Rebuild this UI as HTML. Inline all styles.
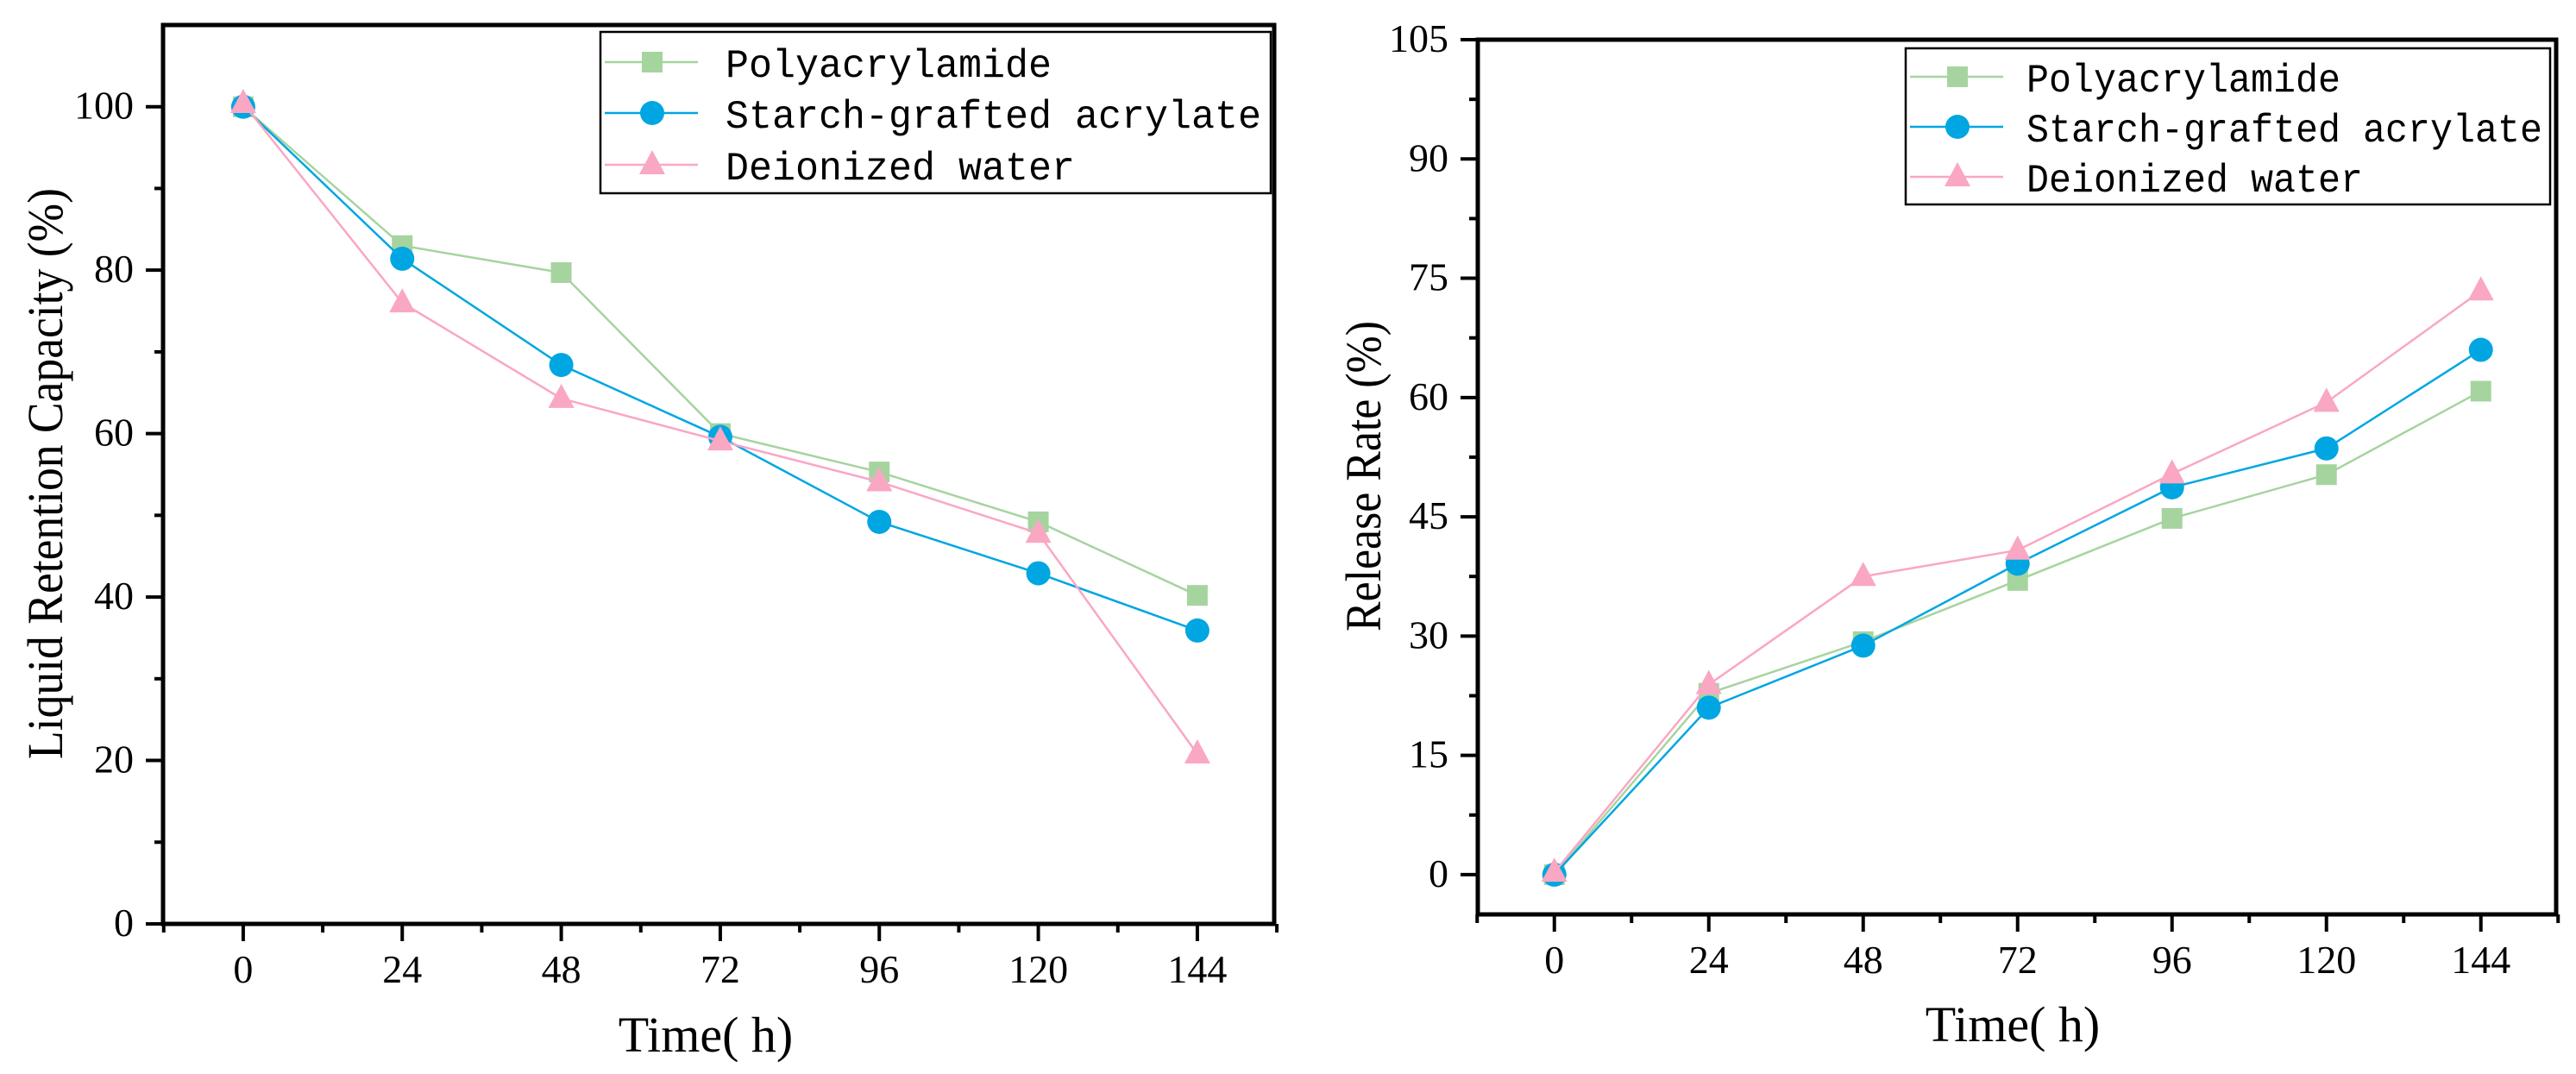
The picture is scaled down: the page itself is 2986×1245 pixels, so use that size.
<!DOCTYPE html>
<html><head><meta charset="utf-8"><style>
html,body{margin:0;padding:0;background:#fff;}
svg{display:block;}
text{font-family:"Liberation Serif",serif;fill:#000;}
.leg{font-family:"Liberation Mono",monospace;font-size:46px;}
</style></head><body>
<svg id="fig" width="2986" height="1245" viewBox="0 0 2986 1245" xmlns="http://www.w3.org/2000/svg"></svg>
<script>
const xCategories = [0, 24, 48, 72, 96, 120, 144];
const seriesNames = ["Polyacrylamide", "Starch-grafted acrylate", "Deionized water"];
const leftPoly = [100, 83, 79.7, 60, 55.3, 49.2, 40.2];
const leftStarch = [100, 81.4, 68.4, 59.6, 49.2, 42.9, 35.9];
const leftWater = [100.4, 76, 64.3, 59.1, 54.1, 47.8, 20.8];
const rightPoly = [0, 22.8, 29.3, 37, 44.8, 50.3, 60.8];
const rightStarch = [0, 21, 28.8, 39.1, 48.7, 53.6, 66];
const rightWater = [0.3, 23.9, 37.5, 40.8, 50.4, 59.4, 73.4];
const leftYTicks = [0, 20, 40, 60, 80, 100];
const rightYTicks = [0, 15, 30, 45, 60, 75, 90, 105];

const NS = "http://www.w3.org/2000/svg";
const svg = document.getElementById("fig");
const colors = ["#a6d49f", "#00a6e2", "#f9a7c3"];
function mk(tag, attrs, parent) {
  const e = document.createElementNS(NS, tag);
  for (const k in attrs) e.setAttribute(k, attrs[k]);
  (parent || svg).appendChild(e);
  return e;
}
function marker(g, kind, cx, cy, color) {
  let m;
  if (kind === 0) m = mk("rect", {x: cx - 12, y: cy - 12, width: 24, height: 24, fill: color}, g);
  else if (kind === 1) m = mk("circle", {cx: cx, cy: cy, r: 14, fill: color}, g);
  else m = mk("polygon", {points: `${cx},${cy - 17} ${cx - 15},${cy + 11} ${cx + 15},${cy + 11}`, fill: color}, g);
  return m;
}
function chart(cfg) {
  const g = mk("g", {});
  
  
  const X = v => cfg.L + (v - cfg.xmin) / (cfg.xmax - cfg.xmin) * (cfg.R - cfg.L);
  const Y = v => cfg.B - (v - cfg.ymin) / (cfg.ymax - cfg.ymin) * (cfg.B - cfg.T);
  const fr = mk("rect", {x: cfg.L, y: cfg.T, width: cfg.R - cfg.L, height: cfg.B - cfg.T, fill: "none", stroke: "#000", "stroke-width": 5}, g);
  
  
  xCategories.forEach((v, i) => {
    mk("line", {x1: X(v), x2: X(v), y1: cfg.B, y2: cfg.B + 20, stroke: "#000", "stroke-width": 4}, g);
    if (i < xCategories.length - 1) mk("line", {x1: X(v + 12), x2: X(v + 12), y1: cfg.B, y2: cfg.B + 10, stroke: "#000", "stroke-width": 4}, g);
    const t = mk("text", {x: X(v), y: cfg.B + 68, "text-anchor": "middle", "font-size": 46}, g);
    t.textContent = v;
    
    
  });
  mk("line", {x1: X(-12), x2: X(-12), y1: cfg.B, y2: cfg.B + 10, stroke: "#000", "stroke-width": 4}, g);
  mk("line", {x1: X(156), x2: X(156), y1: cfg.B, y2: cfg.B + 10, stroke: "#000", "stroke-width": 4}, g);
  const step = cfg.yTicks[1] - cfg.yTicks[0];
  cfg.yTicks.forEach((v, i) => {
    mk("line", {x1: cfg.L - 20, x2: cfg.L, y1: Y(v), y2: Y(v), stroke: "#000", "stroke-width": 4}, g);
    if (v + step / 2 < cfg.ymax) mk("line", {x1: cfg.L - 10, x2: cfg.L, y1: Y(v + step / 2), y2: Y(v + step / 2), stroke: "#000", "stroke-width": 4}, g);
    const t = mk("text", {x: cfg.L - 34, y: Y(v) + 14, "text-anchor": "end", "font-size": 46}, g);
    t.textContent = v;
    
    
  });
  const xt = mk("text", {x: cfg.xtX, y: cfg.xtY, "text-anchor": "middle", "font-size": 58}, g);
  xt.textContent = "Time( h)";
  
  
  const yt = mk("text", {x: 0, y: 0, "text-anchor": "middle", "font-size": 58, transform: `translate(${cfg.ytX},${cfg.ytY}) rotate(-90)`, textLength: cfg.ytLen, lengthAdjust: "spacingAndGlyphs"}, g);
  yt.textContent = cfg.ytitle;
  
  
  cfg.series.forEach((vals, s) => {
    const sg = mk("g", {}, g);
    
    
    const pts = vals.map((v, i) => X(xCategories[i]) + "," + Y(v)).join(" ");
    mk("polyline", {points: pts, fill: "none", stroke: colors[s], "stroke-width": 2.5}, sg);
    vals.forEach((v, i) => {
      const m = marker(sg, s, X(xCategories[i]), Y(v), colors[s]);
      
      
    });
  });
  const lg = mk("g", {}, g);
  
  
  mk("rect", {x: cfg.lgX, y: cfg.lgY, width: cfg.lgW, height: cfg.lgH, fill: "#fff", stroke: "#000", "stroke-width": 2.5}, lg);
  seriesNames.forEach((n, s) => {
    const e = mk("g", {}, lg);
    
    
    const ry = cfg.rows[s];
    mk("line", {x1: cfg.lgX + 5, x2: cfg.lgX + 113, y1: ry, y2: ry, stroke: colors[s], "stroke-width": 2.5}, e);
    marker(e, s, cfg.lgX + 60, ry, colors[s]);
    const t = mk("text", {x: cfg.txX, y: ry + 17, class: "leg", textLength: n.length * cfg.cw, lengthAdjust: "spacingAndGlyphs"}, e);
    t.textContent = n;
  });
}
chart({name: "liquid-retention-chart", L: 189, R: 1477, T: 29, B: 1071, xmin: -12.1, xmax: 155.6, ymin: 0, ymax: 110,
  yTicks: leftYTicks, series: [leftPoly, leftStarch, leftWater],
  xtX: 818, xtY: 1219, ytX: 72, ytY: 549, ytLen: 662, ytitle: "Liquid Retention Capacity (%)",
  lgX: 696, lgY: 37, lgW: 777, lgH: 187, rows: [72, 131, 191], txX: 841, cw: 27});
chart({name: "release-rate-chart", L: 1713, R: 2963, T: 46, B: 1060, xmin: -11.9, xmax: 155.7, ymin: -5, ymax: 105,
  yTicks: rightYTicks, series: [rightPoly, rightStarch, rightWater],
  xtX: 2333, xtY: 1207, ytX: 1600, ytY: 552, ytLen: 360, ytitle: "Release Rate (%)",
  lgX: 2209, lgY: 56, lgW: 747, lgH: 181, rows: [89, 147, 205], txX: 2349, cw: 26});
</script>
</body></html>
